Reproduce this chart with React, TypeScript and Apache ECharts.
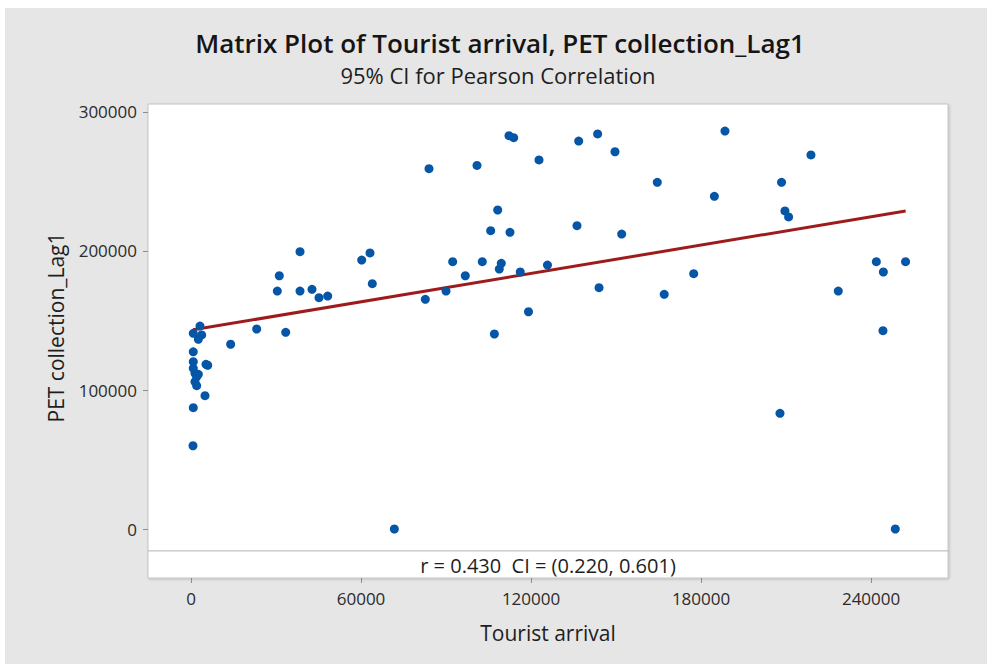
import React, { useEffect, useRef } from "react";
import * as echarts from "echarts";

const touristArrival: number[] = [
  3176, 800, 3770, 2590, 800, 800, 5290, 5900, 800, 1400, 2000, 2590, 1400, 2000, 4940, 800, 700,
  13990, 23180, 33420, 30460, 31160, 38470, 38470, 42700, 45170, 48240, 60240, 63170, 63980, 71760,
  82690, 83990, 90000, 92350, 96800, 100930, 102800, 105760, 107060, 108240, 108800, 109500, 112220,
  112570, 113880, 116200, 119100, 122810, 125800, 136220, 136820, 143500, 144000, 149630, 151990,
  164560, 167000, 177400, 184700, 188440, 207860, 208400, 209600, 210900, 218790, 228430, 241860,
  244200, 244340, 248550, 252170,
];
const petCollectionLag1: number[] = [
  146000, 140800, 139600, 136500, 127500, 120400, 118500, 117800, 115600, 112000, 109600, 111300, 106000, 103100, 95900, 87300, 59900,
  132900, 143900, 141500, 171200, 182200, 199500, 171200, 172400, 166400, 167600, 193500, 198600, 176500, 0,
  165200, 259200, 171200, 192300, 182200, 261600, 192300, 214600, 140300, 229500, 187000, 191100, 283000,
  213400, 281500, 184900, 156300, 265500, 189900, 218200, 279100, 284200, 173600, 271400, 212200,
  249400, 168800, 183700, 239300, 286300, 83200, 249400, 228800, 224500, 269100, 171200, 192300,
  142700, 184900, 0, 192300,
];
// fitted line end points
const fitX: number[] = [700, 252200];
const fitY: number[] = [143300, 228800];

const xTicks: number[] = [0, 60000, 120000, 180000, 240000];
const yTicks: number[] = [0, 100000, 200000, 300000];

const titleText = "Matrix Plot of Tourist arrival, PET collection_Lag1";
const subtitleText = "95% CI for Pearson Correlation";
const ciText = "r = 0.430  CI = (0.220, 0.601)";
const xName = "Tourist arrival";
const yName = "PET collection_Lag1";

const OX = 5;
const OY = 8;
const FONT = "'Open Sans', 'Noto Sans', sans-serif";

export default function App() {
  const ref = useRef<HTMLDivElement>(null);
  useEffect(() => {
    if (!ref.current) return;
    const chart = echarts.init(ref.current, undefined, { renderer: "svg" });
    const points = touristArrival.map((x, i) => [x, petCollectionLag1[i]]);
    const fit = fitX.map((x, i) => [x, fitY[i]]);
    const xMin = -15176;
    const xMax = 267150;
    const gridLeft = 148 - OX;
    const gridW = 800;
    const fmt = (v: number) => String(Math.round(v));
    chart.setOption({
      animation: false,
      backgroundColor: "#e6e6e6",
      textStyle: { fontFamily: FONT },
      grid: [
        {
          left: gridLeft, top: 104 - OY, width: gridW, height: 447,
          show: true, backgroundColor: "#ffffff", borderColor: "#c4c4c4", borderWidth: 1,
          shadowColor: "rgba(0,0,0,0.18)", shadowBlur: 2, shadowOffsetX: 1, shadowOffsetY: 1,
        },
        {
          left: gridLeft, top: 551 - OY, width: gridW, height: 27,
          show: true, backgroundColor: "#ffffff", borderColor: "#c4c4c4", borderWidth: 1,
          shadowColor: "rgba(0,0,0,0.18)", shadowBlur: 2, shadowOffsetX: 1, shadowOffsetY: 1,
        },
      ],
      xAxis: [
        {
          gridIndex: 0, type: "value", min: xMin, max: xMax,
          axisLine: { show: false, onZero: false }, axisTick: { show: false }, axisLabel: { show: false }, splitLine: { show: false },
        },
        {
          gridIndex: 1, type: "value", min: xMin, max: xMax, position: "bottom",
          axisLine: { show: false, onZero: false },
          axisTick: { show: true, length: 5, lineStyle: { color: "#8c8c8c" }, customValues: xTicks },
          axisLabel: { show: true, margin: 12, color: "#2b2b2b", fontSize: 17, fontFamily: FONT, customValues: xTicks, formatter: fmt },
          splitLine: { show: false },
          name: xName, nameLocation: "middle", nameGap: 44,
          nameTextStyle: { fontSize: 21, color: "#1e1e1e", fontFamily: FONT },
        },
      ],
      yAxis: [
        {
          gridIndex: 0, type: "value", min: -15827, max: 305755, position: "left",
          axisLine: { show: false, onZero: false },
          axisTick: { show: true, length: 5, lineStyle: { color: "#8c8c8c" }, customValues: yTicks },
          axisLabel: { show: true, margin: 11, color: "#2b2b2b", fontSize: 17, fontFamily: FONT, customValues: yTicks, formatter: fmt },
          splitLine: { show: false },
          name: yName, nameLocation: "middle", nameGap: 82,
          nameTextStyle: { fontSize: 21, color: "#1e1e1e", fontFamily: FONT },
        },
        {
          gridIndex: 1, type: "value", min: 0, max: 1, show: false,
          axisLine: { onZero: false },
        },
      ],
      graphic: [
        {
          type: "text", x: 500 - OX, y: 43 - OY,
          style: { text: titleText, fontSize: 26, fontWeight: 600, fontFamily: FONT, fill: "#151515", align: "center", verticalAlign: "middle" },
        },
        {
          type: "text", x: 498 - OX, y: 75 - OY,
          style: { text: subtitleText, fontSize: 22, fontFamily: FONT, fill: "#1e1e1e", align: "center", verticalAlign: "middle" },
        },
        {
          type: "text", x: 548 - OX, y: 565 - OY,
          style: { text: ciText, fontSize: 20, fontFamily: FONT, fill: "#1e1e1e", align: "center", verticalAlign: "middle" },
        },
      ],
      series: [
        {
          type: "line", xAxisIndex: 0, yAxisIndex: 0, data: fit, symbol: "none",
          lineStyle: { color: "#9e1b1b", width: 3 }, z: 2, silent: true,
        },
        {
          type: "scatter", xAxisIndex: 0, yAxisIndex: 0, data: points, symbol: "circle", symbolSize: 9,
          itemStyle: { color: "#0556a6", opacity: 1 }, z: 3,
        },
      ],
    });
    return () => chart.dispose();
  }, []);
  return (
    <div style={{ position: "fixed", left: 0, top: 0, width: 987, height: 664, background: "#ffffff" }}>
      <div ref={ref} style={{ position: "absolute", left: OX, top: OY, width: 987 - OX, height: 664 - OY }} />
    </div>
  );
}
